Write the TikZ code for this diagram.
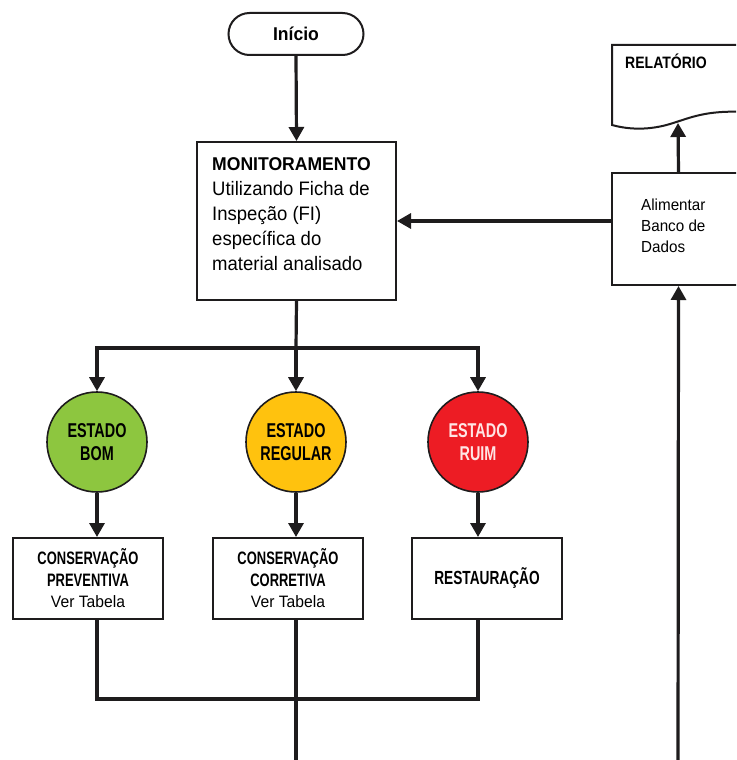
\documentclass[tikz,border=0pt]{standalone}
\usepackage{fontspec}
\setmainfont{Liberation Sans}
\newfontfamily\fA{Liberation Sans}[FakeStretch=0.72]
\newfontfamily\fB{Liberation Sans}[FakeStretch=0.95]
\newfontfamily\fC{Liberation Sans}[FakeStretch=0.85]
\usetikzlibrary{arrows.meta}
\definecolor{cgreen}{RGB}{141,198,63}
\definecolor{cyellow}{RGB}{255,194,14}
\definecolor{cred}{RGB}{237,28,36}
\definecolor{ink}{RGB}{30,28,29}
\tikzset{
  conn/.style={line width=3.2pt, draw=ink, line join=miter},
  arr/.style={conn, -{Triangle[width=15pt,length=14pt]}},
  box/.style={draw=ink, line width=2pt, fill=white, rectangle, inner sep=0pt},
  circ/.style={draw=ink, line width=1.6pt, circle, minimum size=100pt, inner sep=0pt, align=center,
     font=\fA\bfseries\fontsize{20}{23}\selectfont},
  actbox/.style={box, minimum width=150pt, minimum height=81pt, align=center,
     font=\fA\bfseries\fontsize{18}{21.5}\selectfont},
}
\begin{document}
\begin{tikzpicture}[x=1pt,y=-1pt]
\useasboundingbox (0,0) rectangle (736,760);
\clip (0,0) rectangle (736,760);
\fill[white] (0,0) rectangle (736,760);

% start
\node[box, rounded corners=21pt, minimum width=135pt, minimum height=42pt,
  font=\fB\bfseries\fontsize{18.5}{22}\selectfont] (start) at (296,34) {Início};

% monitoring
\node[box, minimum width=199pt, minimum height=158pt] (mon) at (296.5,221) {};
\node[anchor=north west, inner sep=0pt, align=left,
  font=\fB\fontsize{19.5}{25}\selectfont] (montext) at (212,157)
  {{\bfseries\fontsize{18.5}{25}\selectfont MONITORAMENTO}\\Utilizando Ficha de\\Inspeção (FI)\\específica do\\material analisado};

% report document
\draw[draw=ink, line width=2pt, fill=white] (612,45) -- (745,45) -- (745,112)
  .. controls (705,110) and (690,118) .. (670,124)
  .. controls (650,130) and (630,130) .. (612,125) -- cycle;
\coordinate (relb) at (678,123);
\node[anchor=base west, inner sep=0pt, font=\fC\bfseries\fontsize{16.5}{20}\selectfont] (reltext) at (625,68) {RELATÓRIO};

% database box
\node[box, minimum width=133pt, minimum height=112pt] (ali) at (678.5,229) {};
\node[anchor=west, inner sep=0pt, align=left, font=\fB\fontsize{16}{21}\selectfont] (alitext) at (641,226)
  {Alimentar\\Banco de\\Dados};

% states
\node[circ, fill=cgreen] (c1) at (97,442) {ESTADO\\BOM};
\node[circ, fill=cyellow] (c2) at (296,442) {ESTADO\\REGULAR};
\node[circ, fill=cred, text=white!90!red] (c3) at (478,442) {ESTADO\\RUIM};

% actions
\node[actbox] (b1) at (88,578.5) {CONSERVAÇÃO\\PREVENTIVA\\{\fB\mdseries\fontsize{16.5}{21.5}\selectfont Ver Tabela}};
\node[actbox] (b2) at (288,578.5) {CONSERVAÇÃO\\CORRETIVA\\{\fB\mdseries\fontsize{16.5}{21.5}\selectfont Ver Tabela}};
\node[actbox, font=\fA\bfseries\fontsize{19}{21.5}\selectfont] (b3) at (487,578.5) {RESTAURAÇÃO};

% junctions
\coordinate (j) at (296,348);
\coordinate (m) at (296,699);
\coordinate (bot) at (296,770);
\coordinate (botr) at (678,770);

% connectors
\draw[arr] (start.south) -- (mon.north);
\draw[arr] (ali.west |- mon.east) -- (mon.east);
\draw[arr] (ali.north) -- (relb);
\draw[arr] (botr) -- (ali.south);
\draw[conn] (mon.south) -- (j);
\draw[arr] (j) -| (c1.north);
\draw[arr] (j) -| (c3.north);
\draw[arr] (j) -- (c2.north);
\draw[arr] (c1.south) -- (c1.south |- b1.north);
\draw[arr] (c2.south) -- (c2.south |- b2.north);
\draw[arr] (c3.south) -- (c3.south |- b3.north);
\draw[conn] (b1.south -| c1) -- (c1 |- m) -- (c3 |- m) -- (b3.south -| c3);
\draw[conn] (b2.south -| c2) -- (bot);
\end{tikzpicture}
\end{document}
